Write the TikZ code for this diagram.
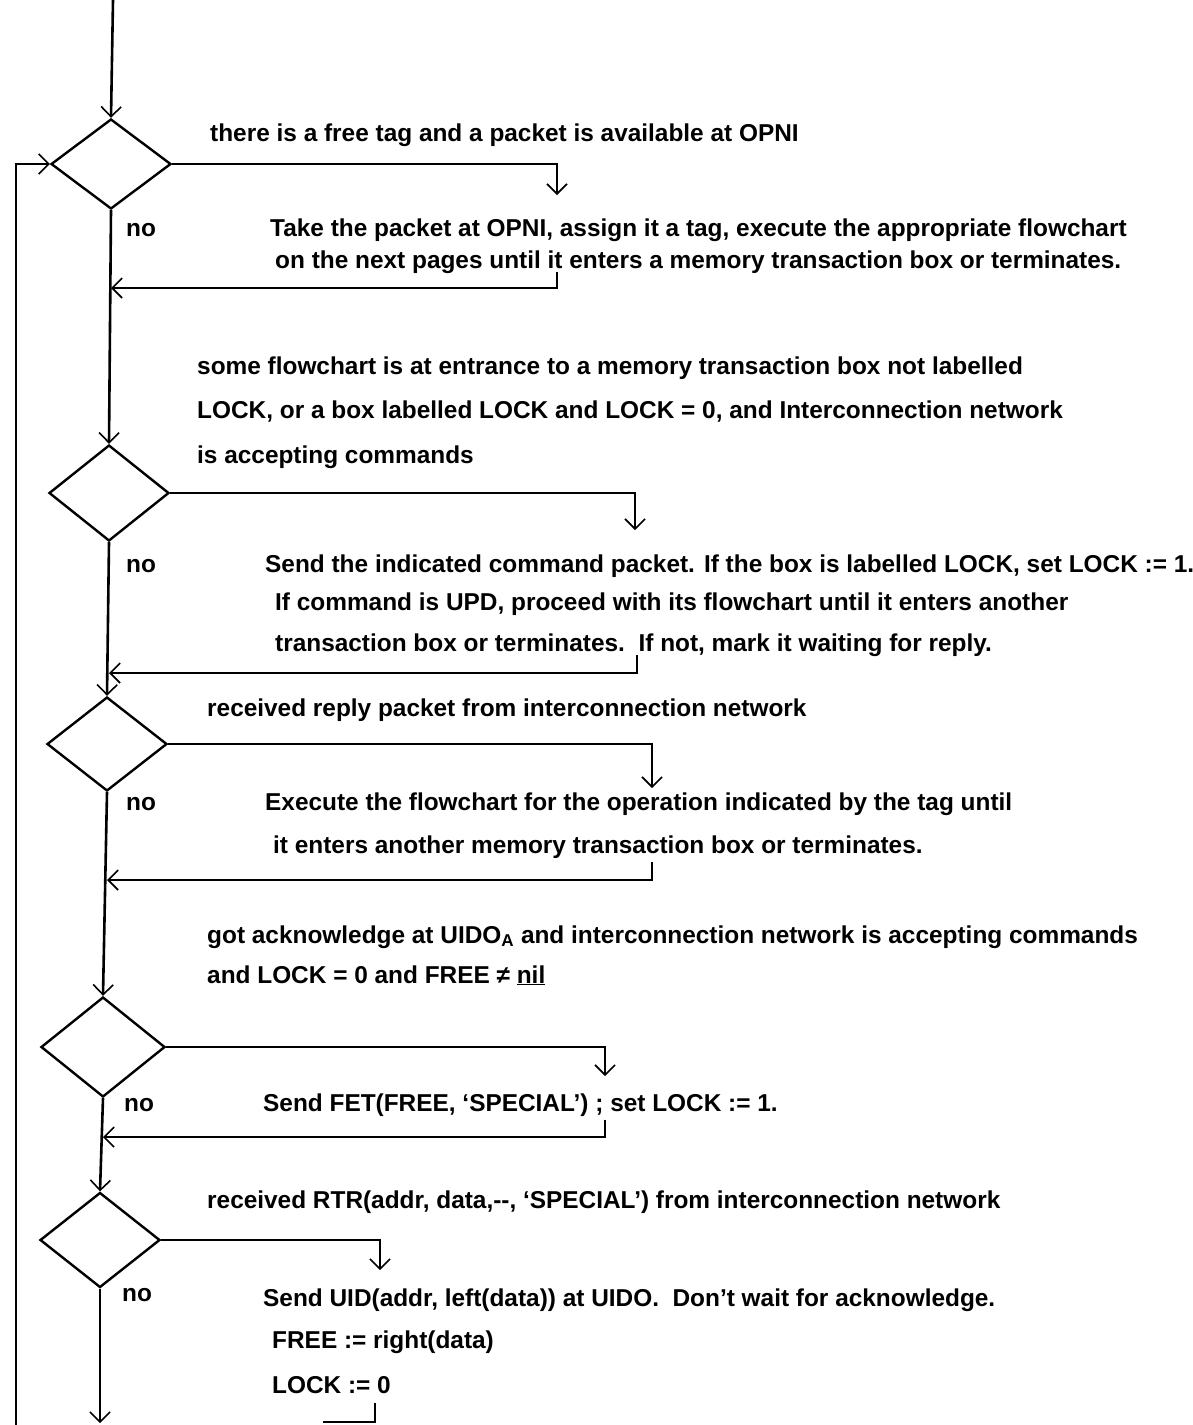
\documentclass[tikz,border=0pt]{standalone}
\usepackage{fontspec}
\setmainfont{Liberation Sans}
\usetikzlibrary{shapes.geometric,arrows.meta}
\begin{document}
\begin{tikzpicture}[x=1pt,y=-1pt,
  dia/.style={diamond,draw,line width=2.4pt,minimum width=120pt,inner sep=0pt},
  mainln/.style={line width=2.6pt},
  branch/.style={line width=1.8pt},
  arr/.style={-{Straight Barb[length=10pt,width=20pt,line width=1.6pt]}},
  txt/.style={anchor=base west,inner sep=0pt,font=\fontsize{24.4}{29}\selectfont\bfseries},
]
\useasboundingbox (0,0) rectangle (1192,1425);
\fill[white] (0,0) rectangle (1192,1425);

% diamonds
\node[dia,minimum height=90pt] (D1) at (111,164) {};
\node[dia,minimum height=96pt] (D2) at (109,493) {};
\node[dia,minimum height=94pt] (D3) at (107,744) {};
\node[dia,minimum height=100pt,minimum width=124pt] (D4) at (103,1047) {};
\node[dia,minimum height=95pt] (D5) at (100,1240) {};

% main line
\coordinate (top) at (113,0);
\coordinate (bot) at (100,1423);
\draw[mainln,arr] (top) -- (D1.north);
\draw[mainln,arr] (D1.south) -- (D2.north);
\draw[mainln,arr] (D2.south) -- (D3.north);
\draw[mainln,arr] (D3.south) -- (D4.north);
\draw[mainln,arr] (D4.south) -- (D5.north);
\draw[mainln,arr] (D5.south) -- (bot);

% loop back line
\coordinate (lp) at (16,1425);
\draw[mainln,arr] (lp) |- (D1.west);

% yes branches
\coordinate (a1) at (557,195);
\coordinate (a2) at (635,530);
\coordinate (a3) at (652,788);
\coordinate (a4) at (605,1076);
\coordinate (a5) at (380,1270);
\draw[branch,arr] (D1.east) -| (a1);
\draw[branch,arr] (D2.east) -| (a2);
\draw[branch,arr] (D3.east) -| (a3);
\draw[branch,arr] (D4.east) -| (a4);
\draw[branch,arr] (D5.east) -| (a5);

% returns
\coordinate (r1a) at (557,272); \coordinate (r1b) at (111,288);
\coordinate (r2a) at (637,655); \coordinate (r2b) at (109,673);
\coordinate (r3a) at (652,862); \coordinate (r3b) at (107,880);
\coordinate (r4a) at (605,1120); \coordinate (r4b) at (103,1137);
\coordinate (r5a) at (375,1403); \coordinate (r5b) at (323,1422);
\draw[branch,arr] (r1a) |- (r1b);
\draw[branch,arr] (r2a) |- (r2b);
\draw[branch,arr] (r3a) |- (r3b);
\draw[branch,arr] (r4a) |- (r4b);
\draw[branch] (r5a) |- (r5b);

% no labels
\node[txt] (n1) at (126,236) {no};
\node[txt] (n2) at (126,572) {no};
\node[txt] (n3) at (126,810) {no};
\node[txt] (n4) at (124,1111) {no};
\node[txt] (n5) at (122,1301) {no};

% block 1
\node[txt] (c1) at (210,141) {there is a free tag and a packet is available at OPNI};
\node[txt] (t1a) at (270,236) {Take the packet at OPNI, assign it a tag, execute the appropriate flowchart};
\node[txt] (t1b) at (275,268) {on the next pages until it enters a memory transaction box or terminates.};

% block 2
\node[txt] (c2a) at (197,374) {some flowchart is at entrance to a memory transaction box not labelled};
\node[txt] (c2b) at (197,418) {LOCK, or a box labelled LOCK and LOCK = 0, and Interconnection network};
\node[txt] (c2c) at (197,463) {is accepting commands};
\node[txt] (t2a) at (265,572) {Send the indicated command packet. If the box is labelled LOCK, set LOCK := 1.};
\node[txt] (t2b) at (275,610) {If command is UPD, proceed with its flowchart until it enters another};
\node[txt] (t2c) at (275,651) {transaction box or terminates.\ \ If not, mark it waiting for reply.};

% block 3
\node[txt] (c3) at (207,716) {received reply packet from interconnection network};
\node[txt] (t3a) at (265,810) {Execute the flowchart for the operation indicated by the tag until};
\node[txt] (t3b) at (273,853) {it enters another memory transaction box or terminates.};

% block 4
\node[txt] (c4a) at (207,943) {got acknowledge at UIDO\textsubscript{A} and interconnection network is accepting commands};
\node[txt] (c4b) at (207,983) {and LOCK = 0 and FREE ≠ \underline{nil}};
\node[txt] (t4) at (263,1111) {Send FET(FREE, `SPECIAL') ; set LOCK := 1.};

% block 5
\node[txt] (c5) at (207,1208) {received RTR(addr, data,-{}-, `SPECIAL') from interconnection network};
\node[txt] (t5a) at (263,1306) {Send UID(addr, left(data)) at UIDO.\ \ Don't wait for acknowledge.};
\node[txt] (t5b) at (272,1348) {FREE := right(data)};
\node[txt] (t5c) at (272,1393) {LOCK := 0};
\end{tikzpicture}
\end{document}
